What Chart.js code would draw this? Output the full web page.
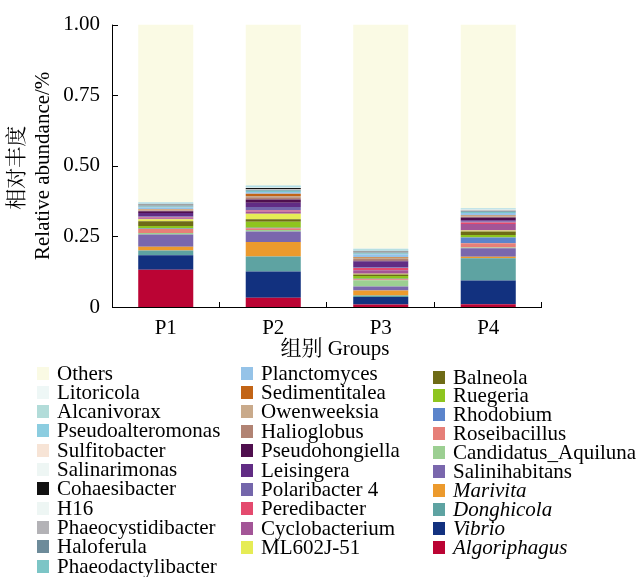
<!DOCTYPE html>
<html>
<head>
<meta charset="utf-8">
<script src="https://cdn.jsdelivr.net/npm/chart.js@4"></script>
<style>
	body { margin: 0; background: #fff; }
	#wrap { position: relative; width: 638px; height: 577px; }
	#legend { position: absolute; left: 0; top: 0; width: 638px; height: 577px; font-family: "Liberation Serif", "Times New Roman", serif; font-size: 21px; color: #000; }
	.item { position: absolute; height: 19px; line-height: 19px; white-space: nowrap; }
	.sw { position: absolute; left: 0; top: 3px; width: 12px; height: 13px; }
	.lab { position: absolute; top: 0; }
</style>
</head>
<body>
<div id="wrap">
	<canvas id="chart" width="638" height="365"></canvas>
	<div id="legend"></div>
</div>
<script>
// groups on the x axis
var groups = ['P1', 'P2', 'P3', 'P4'];
var yTickLabels = ['0', '0.25', '0.50', '0.75', '1.00'];

// genera, bottom of the stack first
var genera = ['Algoriphagus', 'Vibrio', 'Donghicola', 'Marivita', 'Salinihabitans',
	'Candidatus_Aquiluna', 'Roseibacillus', 'Rhodobium', 'Ruegeria', 'Balneola',
	'ML602J-51', 'Cyclobacterium', 'Peredibacter', 'Polaribacter 4', 'Leisingera',
	'Pseudohongiella', 'Halioglobus', 'Owenweeksia', 'Sedimentitalea', 'Planctomyces',
	'Phaeodactylibacter', 'Haloferula', 'Phaeocystidibacter', 'H16', 'Cohaesibacter',
	'Salinarimonas', 'Sulfitobacter', 'Pseudoalteromonas', 'Alcanivorax', 'Litoricola', 'Others'];

var colors = ['#bb0434', '#12317f', '#5ea3a2', '#ec9a2d', '#7a67ad',
	'#9ccf92', '#e67f78', '#5b84cb', '#8ec51f', '#6e6b16',
	'#e6ec55', '#a35597', '#e44a6e', '#7466ab', '#612c84',
	'#4f0f4e', '#b18373', '#c9aa8b', '#c26416', '#95c3e8',
	'#7cc5c6', '#6d8b9a', '#b3b2b6', '#eef6f4', '#111111',
	'#eef6f4', '#f7e4d6', '#8ccde0', '#b2dcd9', '#eef7f6', '#fafae4'];

// names shown in italics in the legend
var italic = ['Marivita', 'Donghicola', 'Vibrio', 'Algoriphagus'];

// relative abundance per genus, values for P1..P4
var algoriphagus = [0.132, 0.033, 0.009, 0.010];
var vibrio = [0.051, 0.093, 0.026, 0.084];
var donghicola = [0.017, 0.053, 0.006, 0.079];
var marivita = [0.013, 0.051, 0.017, 0.005];
var salinihabitans = [0.044, 0.037, 0.015, 0.030];
var candidatusAquiluna = [0.005, 0.006, 0.022, 0.003];
var roseibacillus = [0.014, 0.006, 0.003, 0.015];
var rhodobium = [0.002, 0.002, 0.002, 0.020];
var ruegeria = [0.009, 0.021, 0.010, 0.009];
var balneola = [0.017, 0.009, 0.005, 0.012];
var ml602j51 = [0.007, 0.019, 0.003, 0.004];
var cyclobacterium = [0.003, 0.008, 0.012, 0.023];
var peredibacter = [0.003, 0.004, 0.008, 0.005];
var polaribacter4 = [0.004, 0.012, 0.003, 0.004];
var leisingera = [0.012, 0.015, 0.020, 0.004];
var pseudohongiella = [0.006, 0.012, 0.003, 0.010];
var halioglobus = [0.003, 0.008, 0.006, 0.003];
var owenweeksia = [0.003, 0.004, 0.004, 0.002];
var sedimentitalea = [0.002, 0.008, 0.003, 0.002];
var planctomyces = [0.005, 0.006, 0.010, 0.009];
var phaeodactylibacter = [0.004, 0.005, 0.003, 0.003];
var haloferula = [0.003, 0.002, 0.003, 0.003];
var phaeocystidibacter = [0.002, 0.002, 0.002, 0.002];
var h16 = [0.001, 0.001, 0.001, 0.001];
var cohaesibacter = [0.002, 0.004, 0.001, 0.001];
var salinarimonas = [0.001, 0.001, 0.001, 0.001];
var sulfitobacter = [0.001, 0.001, 0.001, 0.001];
var pseudoalteromonas = [0.003, 0.004, 0.004, 0.003];
var alcanivorax = [0.002, 0.003, 0.003, 0.002];
var litoricola = [0.001, 0.001, 0.001, 0.001];
var others = [0.628, 0.569, 0.793, 0.649];

var values = [algoriphagus, vibrio, donghicola, marivita, salinihabitans,
	candidatusAquiluna, roseibacillus, rhodobium, ruegeria, balneola,
	ml602j51, cyclobacterium, peredibacter, polaribacter4, leisingera,
	pseudohongiella, halioglobus, owenweeksia, sedimentitalea, planctomyces,
	phaeodactylibacter, haloferula, phaeocystidibacter, h16, cohaesibacter,
	salinarimonas, sulfitobacter, pseudoalteromonas, alcanivorax, litoricola, others];

var serif = '"Liberation Serif", "Times New Roman", "Noto Serif CJK SC", serif';

var datasets = genera.map(function(name, i) {
	return {
		label: name,
		data: values[i],
		backgroundColor: colors[i],
		borderWidth: 0,
		barPercentage: 0.512,
		categoryPercentage: 1
	};
});

// axis lines, inward ticks and the two axis titles
var axisDecor = {
	id: 'axisDecor',
	afterDraw: function(chart) {
		var c = chart.ctx, a = chart.chartArea;
		var x = chart.scales.x, y = chart.scales.y;
		c.save();
		c.strokeStyle = '#000';
		c.lineWidth = 1;
		c.beginPath();
		c.moveTo(a.left + 0.5, a.top);
		c.lineTo(a.left + 0.5, a.bottom + 0.5);
		c.lineTo(a.right, a.bottom + 0.5);
		y.ticks.forEach(function(t) {
			var py = Math.round(y.getPixelForValue(t.value)) + 0.5;
			c.moveTo(a.left, py);
			c.lineTo(a.left + 6, py);
		});
		for (var i = 0; i < groups.length; i++) {
			var px = Math.round(x.getPixelForValue(i + 0.5)) - 0.5;
			c.moveTo(px, a.bottom);
			c.lineTo(px, a.bottom - 5);
		}
		c.stroke();

		c.fillStyle = '#000';
		c.font = '21px ' + serif;
		c.textAlign = 'center';
		c.textBaseline = 'alphabetic';
		c.fillText('组别 Groups', (a.left + a.right) / 2 + 8, 355);

		var cy = (a.top + a.bottom) / 2;
		c.save();
		c.translate(49, cy);
		c.rotate(-Math.PI / 2);
		c.fillText('Relative abundance/%', 0, 0);
		c.restore();
		c.save();
		c.translate(23, cy + 2);
		c.rotate(-Math.PI / 2);
		c.fillText('相对丰度', 0, 0);
		c.restore();
		c.restore();
	}
};

var ctx = document.getElementById('chart').getContext('2d');
var chart = new Chart(ctx, {
	type: 'bar',
	data: {
		labels: groups,
		datasets: datasets
	},
	options: {
		responsive: false,
		animation: false,
		devicePixelRatio: 1,
		layout: { padding: { top: 20, right: 96, left: 0, bottom: 0 } },
		plugins: {
			legend: { display: false },
			tooltip: { enabled: false }
		},
		scales: {
			x: {
				stacked: true,
				grid: { display: false, drawTicks: false },
				border: { display: false },
				ticks: { padding: 9, color: '#000', font: { family: serif, size: 21 } },
				afterFit: function(s) { s.height = 58; }
			},
			y: {
				stacked: true,
				min: 0,
				max: 1,
				grid: { display: false, drawTicks: false },
				border: { display: false },
				ticks: {
					stepSize: 0.25,
					padding: 12,
					color: '#000',
					font: { family: serif, size: 21 },
					callback: function(v, i) { return yTickLabels[i]; }
				},
				afterFit: function(s) { s.width = 112; }
			}
		}
	},
	plugins: [axisDecor]
});

// legend in three columns, top of the stack first
var columns = [
	{ x: 37, top: 373, step: 19.3, from: 30, to: 20 },
	{ x: 241, top: 373, step: 19.4, from: 19, to: 10 },
	{ x: 433, top: 377, step: 18.9, from: 9, to: 0 }
];
var legend = document.getElementById('legend');
columns.forEach(function(col) {
	var row = 0;
	for (var i = col.from; i >= col.to; i--) {
		var item = document.createElement('div');
		item.className = 'item';
		item.style.left = col.x + 'px';
		item.style.top = Math.round(col.top + row * col.step - 9.5) + 'px';
		var sw = document.createElement('span');
		sw.className = 'sw';
		sw.style.background = colors[i];
		var lab = document.createElement('span');
		lab.className = 'lab';
		lab.style.left = '20px';
		lab.textContent = genera[i];
		if (italic.indexOf(genera[i]) >= 0) lab.style.fontStyle = 'italic';
		item.appendChild(sw);
		item.appendChild(lab);
		legend.appendChild(item);
		row++;
	}
});
</script>
</body>
</html>
